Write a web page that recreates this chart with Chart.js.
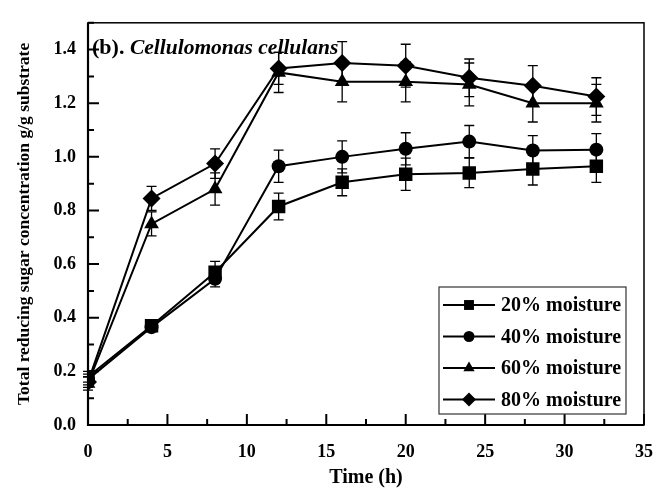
<!DOCTYPE html>
<html><head><meta charset="utf-8">
<script src="https://cdn.jsdelivr.net/npm/chart.js@4.4.0/dist/chart.umd.min.js"></script>
<style>html,body{margin:0;padding:0;background:#fff}#wrap{width:670px;height:501px}</style>
</head><body><div id="wrap"><canvas id="c" width="670" height="501"></canvas></div>
<script>
// ---- data ----
const timeH = [0, 4, 8, 12, 16, 20, 24, 28, 32];
const seriesLabels = ['20% moisture', '40% moisture', '60% moisture', '80% moisture'];
const m20 = [0.18, 0.37, 0.57, 0.815, 0.905, 0.935, 0.94, 0.955, 0.965];
const m40 = [0.17, 0.365, 0.545, 0.965, 1.00, 1.03, 1.057, 1.024, 1.027];
const m60 = [0.155, 0.75, 0.88, 1.315, 1.28, 1.28, 1.27, 1.20, 1.20];
const m80 = [0.16, 0.845, 0.975, 1.33, 1.35, 1.34, 1.295, 1.265, 1.225];
const e20 = [0.02, 0.015, 0.04, 0.05, 0.05, 0.06, 0.055, 0.06, 0.06];
const e40 = [0.02, 0.015, 0.03, 0.06, 0.06, 0.06, 0.06, 0.055, 0.06];
const e60 = [0.025, 0.045, 0.06, 0.075, 0.075, 0.075, 0.08, 0.07, 0.07];
const e80 = [0.02, 0.045, 0.055, 0.06, 0.08, 0.08, 0.07, 0.075, 0.07];
const xTicks = [0, 5, 10, 15, 20, 25, 30, 35];
const yTicks = [0, 0.2, 0.4, 0.6, 0.8, 1.0, 1.2, 1.4];
const panelLabel = '(b).';
const organism = 'Cellulomonas cellulans';

const FONT = "'Liberation Serif', 'Times New Roman', serif";
const styles = ['rect', 'circle', 'triangle', 'rectRot'];
const radii = [9.5, 7, 8.5, 9];
const legendRadii = [7, 5.5, 6.5, 7];
const values = [m20, m40, m60, m80];
const errors = [e20, e40, e60, e80];

function shape(ctx, style, r, x, y) {
  ctx.beginPath();
  if (style === 'rect') {
    const s = Math.SQRT1_2 * r;
    ctx.rect(x - s, y - s, 2 * s, 2 * s);
  } else if (style === 'circle') {
    ctx.arc(x, y, r, 0, Math.PI * 2);
  } else if (style === 'triangle') {
    ctx.moveTo(x, y - r);
    ctx.lineTo(x + r * Math.cos(Math.PI / 6), y + r / 2);
    ctx.lineTo(x - r * Math.cos(Math.PI / 6), y + r / 2);
    ctx.closePath();
  } else {
    ctx.moveTo(x, y - r); ctx.lineTo(x + r, y); ctx.lineTo(x, y + r); ctx.lineTo(x - r, y); ctx.closePath();
  }
  ctx.fill();
}

const datasets = values.map((v, i) => ({
  label: seriesLabels[i],
  data: timeH.map((t, j) => ({ x: t, y: v[j] })),
  borderColor: '#000',
  backgroundColor: '#000',
  borderWidth: 2,
  pointStyle: styles[i],
  pointRadius: radii[i],
  pointBorderWidth: 0,
  pointBackgroundColor: '#000',
  tension: 0
}));

const decor = {
  id: 'decor',
  beforeDatasetsDraw(chart) {
    const { ctx, scales: { x, y } } = chart;
    ctx.save();
    ctx.strokeStyle = '#000';
    ctx.lineWidth = 1.3;
    errors.forEach((err, i) => {
      err.forEach((e, j) => {
        const px = x.getPixelForValue(timeH[j]);
        const top = y.getPixelForValue(values[i][j] + e);
        const bot = y.getPixelForValue(values[i][j] - e);
        ctx.beginPath();
        ctx.moveTo(px, top); ctx.lineTo(px, bot);
        ctx.moveTo(px - 5, top); ctx.lineTo(px + 5, top);
        ctx.moveTo(px - 5, bot); ctx.lineTo(px + 5, bot);
        ctx.stroke();
      });
    });
    ctx.restore();
  },
  afterDraw(chart) {
    const { ctx, chartArea: a, scales: { x, y } } = chart;
    ctx.save();
    // frame
    ctx.strokeStyle = '#000';
    ctx.lineWidth = 1.5;
    ctx.strokeRect(a.left, a.top, a.right - a.left, a.bottom - a.top);
    ctx.lineWidth = 2.2;
    ctx.beginPath();
    ctx.moveTo(a.left, a.top); ctx.lineTo(a.left, a.bottom); ctx.lineTo(a.right, a.bottom);
    ctx.stroke();
    // inward ticks
    ctx.lineWidth = 2;
    ctx.beginPath();
    xTicks.forEach((t, k) => {
      const px = x.getPixelForValue(t);
      ctx.moveTo(px, a.bottom); ctx.lineTo(px, a.bottom - 11);
      if (k < xTicks.length - 1) {
        const mx = x.getPixelForValue((t + xTicks[k + 1]) / 2);
        ctx.moveTo(mx, a.bottom); ctx.lineTo(mx, a.bottom - 6);
      }
    });
    yTicks.forEach((t) => {
      const py = y.getPixelForValue(t);
      ctx.moveTo(a.left, py); ctx.lineTo(a.left + 11, py);
      const my = y.getPixelForValue(t + 0.1);
      ctx.moveTo(a.left, my); ctx.lineTo(a.left + 6, my);
    });
    ctx.stroke();
    // panel title
    ctx.fillStyle = '#000';
    ctx.textBaseline = 'alphabetic';
    ctx.font = "bold 22px " + FONT;
    ctx.fillText(panelLabel, a.left + 4, a.top + 31);
    const w = ctx.measureText(panelLabel + ' ').width;
    ctx.font = "italic bold 21.5px " + FONT;
    ctx.fillText(organism, a.left + 4 + w, a.top + 31);
    // legend
    const bx = 439, by = 287, bw = 187, bh = 127;
    ctx.fillStyle = '#fff';
    ctx.fillRect(bx, by, bw, bh);
    ctx.strokeStyle = '#333';
    ctx.lineWidth = 1.2;
    ctx.strokeRect(bx, by, bw, bh);
    ctx.font = "bold 20px " + FONT;
    ctx.textBaseline = 'middle';
    seriesLabels.forEach((lab, i) => {
      const ry = by + 18 + i * 31.5;
      ctx.strokeStyle = '#000';
      ctx.lineWidth = 2.2;
      ctx.beginPath(); ctx.moveTo(bx + 4, ry); ctx.lineTo(bx + 56, ry); ctx.stroke();
      ctx.fillStyle = '#000';
      shape(ctx, styles[i], legendRadii[i], bx + 30, ry);
      ctx.fillText(lab, bx + 62, ry + 1);
    });
    ctx.restore();
  }
};

new Chart(document.getElementById('c'), {
  type: 'line',
  data: { datasets },
  plugins: [decor],
  options: {
    responsive: false,
    animation: false,
    devicePixelRatio: 1,
    layout: { padding: { top: 17, right: 14, left: 0, bottom: 0 } },
    plugins: { legend: { display: false }, tooltip: { enabled: false } },
    scales: {
      x: {
        type: 'linear', min: 0, max: 35,
        afterBuildTicks: s => { s.ticks = xTicks.map(v => ({ value: v })); },
        afterFit: s => { s.height = 76; },
        grid: { display: false, drawTicks: false },
        border: { display: false },
        ticks: { color: '#000', font: { family: FONT, weight: 'bold', size: 18 }, padding: 17, maxRotation: 0, autoSkip: false },
        title: { display: true, text: 'Time (h)', color: '#000', font: { family: FONT, weight: 'bold', size: 20 }, padding: { top: 0, bottom: 11 } }
      },
      y: {
        min: 0, max: 1.5,
        afterBuildTicks: s => { s.ticks = yTicks.map(v => ({ value: v })); },
        afterFit: s => { s.width = 88; },
        grid: { display: false, drawTicks: false },
        border: { display: false },
        ticks: { color: '#000', font: { family: FONT, weight: 'bold', size: 18 }, padding: 12, callback: v => Number(v).toFixed(1), autoSkip: false },
        title: { display: true, text: 'Total reducing sugar concentration g/g substrate', color: '#000', font: { family: FONT, weight: 'bold', size: 17.5 }, padding: { top: 14, bottom: 0 } }
      }
    }
  }
});
</script>
</body></html>
